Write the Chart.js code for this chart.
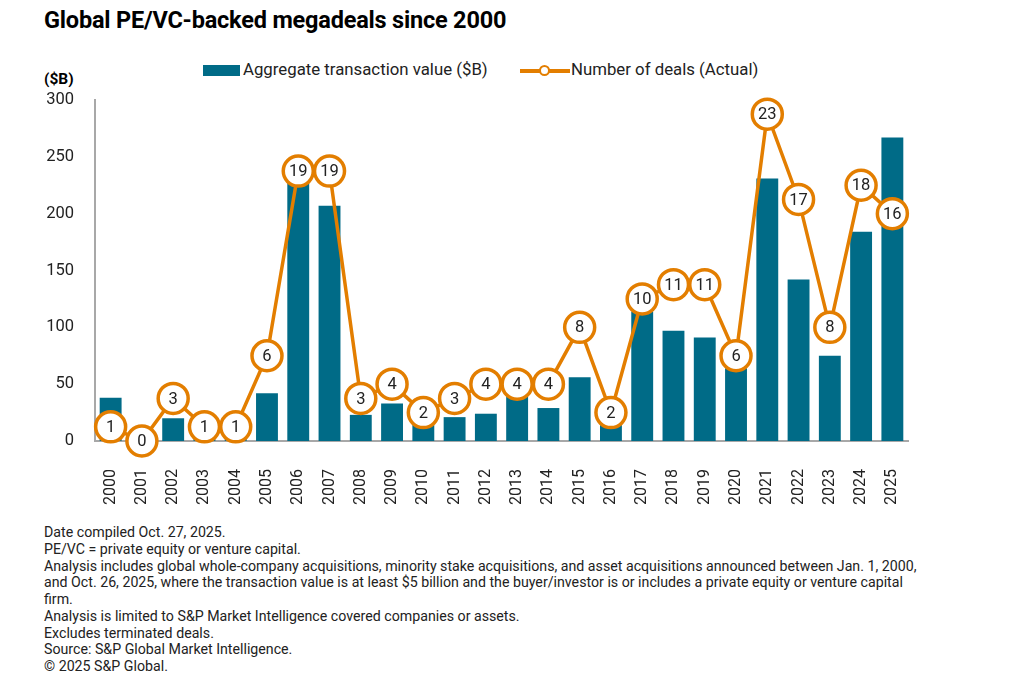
<!DOCTYPE html>
<html>
<head>
<meta charset="utf-8">
<script src="https://cdn.jsdelivr.net/npm/chart.js@4.4.1/dist/chart.umd.min.js"></script>
<style>
  html, body { margin:0; padding:0; background:#fff; }
  body { width:1024px; height:689px; position:relative; overflow:hidden; font-family: Roboto, "Noto Sans", sans-serif; color:#000; }
  #title { position:absolute; left:44px; top:6px; font-size:23.5px; font-weight:700; letter-spacing:-0.2px; white-space:nowrap; }
  #unit { position:absolute; left:44px; top:70px; font-size:15.5px; font-weight:700; }
  .leg { position:absolute; top:59px; font-size:16.8px; white-space:nowrap; color:#222; }
  #notes { position:absolute; left:44px; top:524px; font-size:14.2px; line-height:16.75px; color:#222; }
  #notes div { white-space:nowrap; }
  canvas { position:absolute; left:0; top:0; }
</style>
</head>
<body>
<div id="title">Global PE/VC-backed megadeals since 2000</div>
<div id="unit">($B)</div>
<div class="leg" style="left:203px;"><span style="display:inline-block;width:37px;height:11px;background:#006B87;vertical-align:-1px;margin-right:3px;"></span>Aggregate transaction value ($B)</div>
<div class="leg" style="left:520px;"><span style="display:inline-block;position:relative;width:50px;height:11px;vertical-align:-1px;margin-right:1px;"><span style="position:absolute;left:0;top:4px;width:50px;height:3.5px;background:#E37E00;"></span><span style="position:absolute;left:19px;top:0px;width:7px;height:7px;border:2.5px solid #E37E00;border-radius:50%;background:#fff;"></span></span>Number of deals (Actual)</div>
<canvas id="c" width="1024" height="520"></canvas>
<div id="notes">
<div>Date compiled Oct. 27, 2025.</div>
<div>PE/VC = private equity or venture capital.</div>
<div>Analysis includes global whole-company acquisitions, minority stake acquisitions, and asset acquisitions announced between Jan. 1, 2000,</div>
<div>and Oct. 26, 2025, where the transaction value is at least $5 billion and the buyer/investor is or includes a private equity or venture capital</div>
<div>firm.</div>
<div>Analysis is limited to S&amp;P Market Intelligence covered companies or assets.</div>
<div>Excludes terminated deals.</div>
<div>Source: S&amp;P Global Market Intelligence.</div>
<div>© 2025 S&amp;P Global.</div>
</div>
<script>
const years = ["2000","2001","2002","2003","2004","2005","2006","2007","2008","2009","2010","2011","2012","2013","2014","2015","2016","2017","2018","2019","2020","2021","2022","2023","2024","2025"];
const transactionValue = [38, 0, 20, 6, 8, 42, 235, 207, 23, 33, 14, 21, 24, 40, 29, 56, 14, 114, 97, 91, 64, 231, 142, 75, 184, 267];
const numberOfDeals = [1, 0, 3, 1, 1, 6, 19, 19, 3, 4, 2, 3, 4, 4, 4, 8, 2, 10, 11, 11, 6, 23, 17, 8, 18, 16];
const yTicks = [0, 50, 100, 150, 200, 250, 300];

const TEAL = '#006B87';
const ORANGE = '#E37E00';

const pointLabels = {
  id: 'pointLabels',
  afterDatasetsDraw(chart) {
    const meta = chart.getDatasetMeta(1);
    const ctx = chart.ctx;
    ctx.save();
    ctx.font = '16.5px Roboto, "Noto Sans", sans-serif';
    ctx.fillStyle = '#222';
    ctx.textAlign = 'center';
    ctx.textBaseline = 'middle';
    meta.data.forEach((pt, i) => {
      ctx.fillText(String(numberOfDeals[i]), pt.x, pt.y + 1);
    });
    ctx.restore();
  }
};

new Chart(document.getElementById('c'), {
  type: 'bar',
  data: {
    labels: years,
    datasets: [
      {
        type: 'bar',
        label: 'Aggregate transaction value ($B)',
        data: transactionValue,
        backgroundColor: TEAL,
        borderWidth: 0,
        barPercentage: 0.7,
        categoryPercentage: 1.0,
        yAxisID: 'y',
        order: 2
      },
      {
        type: 'line',
        label: 'Number of deals (Actual)',
        data: numberOfDeals,
        borderColor: ORANGE,
        borderWidth: 3.5,
        pointRadius: 15,
        pointHoverRadius: 15,
        pointBackgroundColor: '#fff',
        pointBorderColor: ORANGE,
        pointBorderWidth: 3.5,
        tension: 0,
        clip: false,
        yAxisID: 'y1',
        order: 1
      }
    ]
  },
  options: {
    responsive: false,
    animation: false,
    devicePixelRatio: 1,
    layout: { padding: { top: 100, left: 0, right: 116, bottom: 0 } },
    plugins: { legend: { display: false }, tooltip: { enabled: false }, title: { display: false } },
    scales: {
      x: {
        grid: { display: false },
        border: { display: true, color: '#A8A8A8', width: 2 },
        ticks: {
          autoSkip: false, minRotation: 90, maxRotation: 90, padding: 20,
          color: '#222', font: { size: 16, family: 'Roboto, "Noto Sans", sans-serif' }
        },
        afterFit(scale) { scale.height = 79; }
      },
      y: {
        position: 'left',
        min: 0, max: 300,
        afterBuildTicks(scale) { scale.ticks = yTicks.map(v => ({ value: v })); },
        grid: { display: false },
        border: { display: true, color: '#A8A8A8', width: 2 },
        ticks: { padding: 13, color: '#222', font: { size: 16.5, family: 'Roboto, "Noto Sans", sans-serif' } },
        afterFit(scale) { scale.width = 95; }
      },
      y1: {
        display: false,
        min: 0, max: 24
      }
    }
  },
  plugins: [pointLabels]
});
</script>
</body>
</html>
